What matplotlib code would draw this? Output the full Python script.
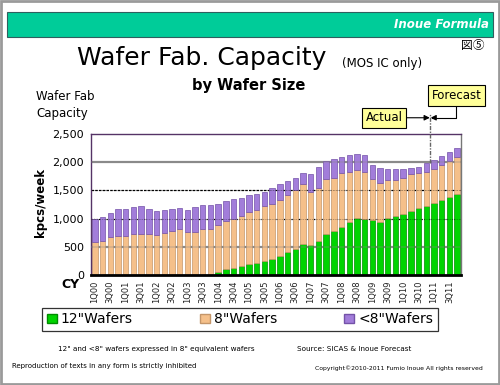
import matplotlib
matplotlib.use("Agg")
import matplotlib.pyplot as plt
import matplotlib.transforms as mtransforms
from matplotlib.patches import Rectangle, Patch
from matplotlib.lines import Line2D
import numpy as np

plt.rcParams['font.family'] = ['DejaVu Sans', 'Noto Sans CJK JP']

years = ['00', '01', '02', '03', '04', '05', '06', '07', '08', '09', '10', '11']
quarters = [f"{q}Q{y}" for y in years for q in (1, 2, 3, 4)]

# values in kpcs/week (8" equivalent)
wafers12 = [0, 0, 0, 0, 0, 0, 0, 0, 0, 0, 0, 0, 0, 0, 0, 0,
            53, 110, 130, 155, 201, 213, 248, 284, 343, 408, 466, 544,
            532, 603, 727, 775, 851, 940, 1011, 993, 975, 946, 1011, 1046,
            1081, 1140, 1193, 1223, 1276, 1330, 1383, 1441]
top8 = [592, 610, 681, 699, 699, 723, 735, 735, 717, 752, 776, 817,
        764, 770, 817, 812, 890, 958, 995, 1050, 1118, 1162, 1228, 1264,
        1335, 1424, 1507, 1608, 1477, 1548, 1696, 1725, 1803, 1821, 1862, 1832,
        1696, 1631, 1684, 1690, 1725, 1796, 1808, 1832, 1879, 1956, 2021, 2092]
totals = [989, 1025, 1102, 1167, 1167, 1208, 1220, 1179, 1143, 1155, 1179, 1191,
          1155, 1208, 1244, 1244, 1265, 1305, 1350, 1366, 1415, 1432, 1473, 1542,
          1619, 1660, 1725, 1802, 1790, 1909, 2021, 2051, 2087, 2128, 2145, 2128,
          1950, 1891, 1879, 1879, 1879, 1903, 1909, 1991, 2044, 2110, 2181, 2246]
wafers8 = [t - g for t, g in zip(top8, wafers12)]
wafers_lt8 = [t - e for t, e in zip(totals, top8)]
forecast_start = quarters.index('1Q11')

series_names = ['12"Wafers', '8"Wafers', '<8"Wafers']
yticks = [0, 500, 1000, 1500, 2000, 2500]

fig = plt.figure(figsize=(5.0, 3.85), dpi=100)
fig.patch.set_facecolor('white')

# outer border and header band
fig.add_artist(Rectangle((0.002, 0.003), 0.996, 0.994, transform=fig.transFigure,
                         fill=False, ec='#9a9a9a', lw=2))
fig.add_artist(Rectangle((0.0134, 0.9047), 0.972, 0.0634, transform=fig.transFigure,
                         fc='#00CC99', ec='#2f5f5f', lw=0.8))
fig.text(0.978, 0.936, 'Inoue Formula', color='white', fontsize=8.5,
         fontweight='bold', fontstyle='italic', ha='right', va='center')

fig.text(0.404, 0.831, 'Wafer Fab. Capacity', fontsize=18, ha='center', va='baseline')
fig.text(0.684, 0.826, '(MOS IC only)', fontsize=8.5, ha='left', va='baseline')
fig.text(0.945, 0.883, '図⑤', fontsize=8.5, ha='center', va='center',
         family=['Noto Sans CJK JP', 'DejaVu Sans'])
fig.text(0.497, 0.779, 'by Wafer Size', fontsize=10.5, fontweight='bold',
         ha='center', va='center')
fig.text(0.072, 0.727, 'Wafer Fab\nCapacity', fontsize=8.5, ha='left', va='center',
         linespacing=1.35)
fig.text(0.08, 0.473, 'kpcs/week', fontsize=8.5, fontweight='bold', rotation=90,
         ha='center', va='center')
fig.text(0.14, 0.262, 'CY', fontsize=9, fontweight='bold', ha='center', va='center')

ax = fig.add_axes([0.182, 0.2857, 0.74, 0.366])
x = np.arange(len(quarters))
w = 0.7
c12, c8, clt8 = '#00D400', '#F5C08A', '#A27DDA'
b1 = ax.bar(x, wafers12, w, color=c12, edgecolor='#008C00', lw=0.5, zorder=2)
b2 = ax.bar(x, wafers8, w, bottom=wafers12, color=c8, edgecolor='#C4966A', lw=0.5, zorder=2)
b3 = ax.bar(x, wafers_lt8, w, bottom=top8, color=clt8, edgecolor='#7452A8', lw=0.5, zorder=2)

ax.set_xlim(-0.5, len(quarters) - 0.5)
ax.set_ylim(0, 2500)
ax.set_yticks(yticks)
ax.set_yticklabels([f"{v:,}" for v in yticks], fontsize=8)
ax.set_xticks(x[::2])
ax.set_xticklabels(quarters[::2], rotation=90, fontsize=6, color='#222222')
ax.tick_params(axis='y', length=0, pad=5)
ax.tick_params(axis='x', length=0, pad=4)

grid_styles = {500: ('#8a8a8a', 1.6, '-'), 1000: ('black', 0.9, (0, (1, 1))),
               1500: ('black', 0.9, (0, (2, 1))), 2000: ('#8a8a8a', 1.6, '-')}
for v, (col, lw, ls) in grid_styles.items():
    ax.axhline(v, color=col, lw=lw, ls=ls, zorder=1)
    ax.axhline(v, color=col, lw=lw * 0.7, ls=ls, zorder=3, alpha=0.35)

for s in ('left', 'top', 'right'):
    ax.spines[s].set_color('#553366')
    ax.spines[s].set_linewidth(1.0)
ax.spines['right'].set_color('#777777')
ax.spines['bottom'].set_color('black')
ax.spines['bottom'].set_linewidth(2)

# actual / forecast divider
blend = mtransforms.blended_transform_factory(ax.transData, ax.transAxes)
xdiv = forecast_start - 0.5
yarrow = 1.116
ax.add_line(Line2D([xdiv, xdiv], [totals[forecast_start - 1] / 2500, yarrow + 0.03],
                   transform=blend, color='#666666', lw=1, ls=(0, (3, 1, 1, 1)),
                   clip_on=False, zorder=4))
ax.annotate('Actual', xy=(xdiv - 0.05, yarrow), xycoords=blend,
            xytext=(37.5, yarrow), textcoords=blend, fontsize=8.5,
            ha='center', va='center',
            bbox=dict(boxstyle='square,pad=0.3', fc='#FFFF99', ec='black', lw=0.8),
            arrowprops=dict(arrowstyle='-|>', color='black', lw=0.8,
                            mutation_scale=8, shrinkA=0, shrinkB=0))
ax.annotate('Forecast', xy=(xdiv + 0.05, yarrow), xycoords=blend,
            xytext=(46.9, 1.274), textcoords=blend, fontsize=8.5,
            ha='center', va='center',
            bbox=dict(boxstyle='square,pad=0.3', fc='#FFFF99', ec='black', lw=0.8),
            arrowprops=dict(arrowstyle='-|>', color='black', lw=0.8,
                            mutation_scale=8, shrinkA=0, shrinkB=0,
                            connectionstyle='angle,angleA=90,angleB=0,rad=0'))

handles = [Patch(fc=c12, ec='#008C00'), Patch(fc=c8, ec='#C4966A'), Patch(fc=clt8, ec='#7452A8')]
leg = fig.legend(handles, series_names, loc='center', ncol=3,
                 bbox_to_anchor=(0.084, 0.137, 0.792, 0.0665), mode='expand',
                 fontsize=10, frameon=True, fancybox=False, edgecolor='black',
                 handlelength=0.7, handleheight=0.7, handletextpad=0.3,
                 borderaxespad=0, borderpad=0.35)
leg.get_frame().set_linewidth(0.9)

fig.text(0.313, 0.094, '12" and <8" wafers expressed in 8" equivalent wafers',
         fontsize=5.2, ha='center', va='center')
fig.text(0.708, 0.094, 'Source: SICAS & Inoue Forecast', fontsize=5.2,
         ha='center', va='center')
fig.text(0.024, 0.049, 'Reproduction of texts in any form is strictly inhibited',
         fontsize=5.0, ha='left', va='center')
fig.text(0.966, 0.044, 'Copyright©2010-2011 Fumio Inoue All rights reserved',
         fontsize=4.4, ha='right', va='center')

fig.savefig('out.png', dpi=100)
